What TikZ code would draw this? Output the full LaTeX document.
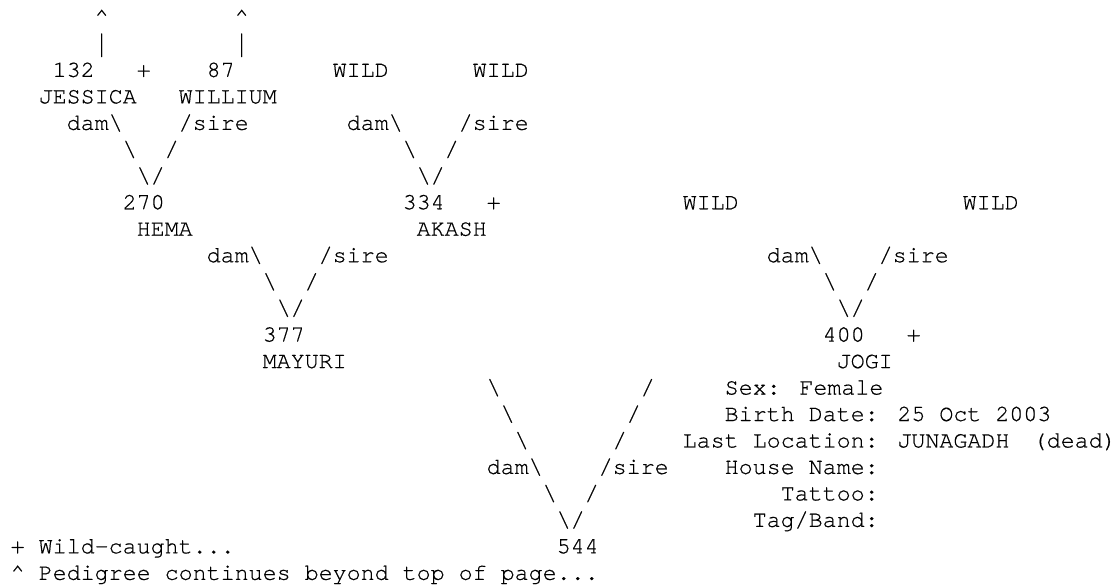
\documentclass[tikz,border=0pt]{standalone}
\usepackage{fontspec}
\usepackage{graphicx}
\newfontfamily\pedmono{TeX Gyre Cursor}[FakeBold=0.5]
\tikzset{
  txt/.style={anchor=base west, inner sep=0pt, outer sep=0pt,
    font=\pedmono\fontsize{17.5pt}{19.85pt}\selectfont, text=black}
}
\newcommand\bs{\textbackslash}
\newcommand\tallbar{\raisebox{-1.9pt}{\scalebox{1}[1.37]{|}}}
\begin{document}
\begin{tikzpicture}[x=10.5pt,y=-19.85pt]
\fill[white] (0,0) rectangle (79.7143,22.1786);
\useasboundingbox (0,0) rectangle (79.7143,22.1786);
\begin{scope}[shift={(0.764,-0.0932)}]
% row 1-2: continuation marks
\node[txt] (up1) at (6,1) {\textasciicircum};
\node[txt] (up2) at (16,1) {\textasciicircum};
\node[txt] (bar1) at (6,2) {\tallbar};
\node[txt] (bar2) at (16,2) {\tallbar};
% row 3-4: great-grandparents
\node[txt] (i132) at (3,3) {132};
\node[txt] (p1) at (9,3) {+};
\node[txt] (i87) at (14,3) {87};
\node[txt] (w1) at (23,3) {WILD};
\node[txt] (w2) at (33,3) {WILD};
\node[txt] (jes) at (2,4) {JESSICA};
\node[txt] (wil) at (12,4) {WILLIUM};
% row 5-7
\node[txt] (d1) at (4,5) {dam\bs};
\node[txt] (s1) at (12,5) {/sire};
\node[txt] (d2) at (24,5) {dam\bs};
\node[txt] (s2) at (32,5) {/sire};
\node[txt] (a1) at (8,6) {\bs};
\node[txt] (b1) at (11,6) {/};
\node[txt] (a2) at (28,6) {\bs};
\node[txt] (b2) at (31,6) {/};
\node[txt] (v1) at (9,7) {\bs/};
\node[txt] (v2) at (29,7) {\bs/};
% row 8-9: grandparents
\node[txt] (i270) at (8,8) {270};
\node[txt] (i334) at (28,8) {334};
\node[txt] (p2) at (34,8) {+};
\node[txt] (w3) at (48,8) {WILD};
\node[txt] (w4) at (68,8) {WILD};
\node[txt] (hem) at (9,9) {HEMA};
\node[txt] (aka) at (29,9) {AKASH};
% row 10-12
\node[txt] (d3) at (14,10) {dam\bs};
\node[txt] (s3) at (22,10) {/sire};
\node[txt] (d4) at (54,10) {dam\bs};
\node[txt] (s4) at (62,10) {/sire};
\node[txt] (a3) at (18,11) {\bs};
\node[txt] (b3) at (21,11) {/};
\node[txt] (a4) at (58,11) {\bs};
\node[txt] (b4) at (61,11) {/};
\node[txt] (v3) at (19,12) {\bs/};
\node[txt] (v4) at (59,12) {\bs/};
% row 13-14: parents
\node[txt] (i377) at (18,13) {377};
\node[txt] (i400) at (58,13) {400};
\node[txt] (p3) at (64,13) {+};
\node[txt] (may) at (18,14) {MAYURI};
\node[txt] (jog) at (59,14) {JOGI};
% row 15-20
\node[txt] (a5) at (34,15) {\bs};
\node[txt] (b5) at (45,15) {/};
\node[txt] (sex) at (51,15) {Sex: Female};
\node[txt] (a6) at (35,16) {\bs};
\node[txt] (b6) at (44,16) {/};
\node[txt] (bir) at (51,16) {Birth Date: 25 Oct 2003};
\node[txt] (a7) at (36,17) {\bs};
\node[txt] (b7) at (43,17) {/};
\node[txt] (loc) at (48,17) {Last Location: JUNAGADH};
\node[txt] (dead) at (73,17) {(dead)};
\node[txt] (d5) at (34,18) {dam\bs};
\node[txt] (s5) at (42,18) {/sire};
\node[txt] (hou) at (51,18) {House Name:};
\node[txt] (a8) at (38,19) {\bs};
\node[txt] (b8) at (41,19) {/};
\node[txt] (tat) at (55,19) {Tattoo:};
\node[txt] (v5) at (39,20) {\bs/};
\node[txt] (tag) at (53,20) {Tag/Band:};
% row 21-22
\node[txt] (leg1) at (0,21) {+ Wild-caught...};
\node[txt] (i544) at (39,21) {544};
\node[txt] (leg2) at (0,22) {\textasciicircum{} Pedigree continues beyond top of page...};
\end{scope}
\end{tikzpicture}
\end{document}
